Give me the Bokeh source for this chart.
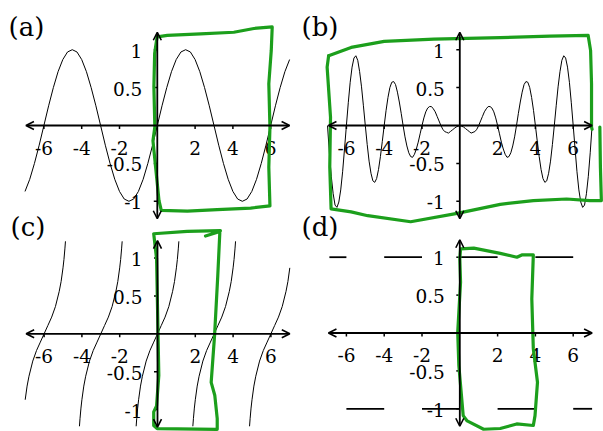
from bokeh.plotting import figure
from bokeh.models import Range1d, Arrow, OpenHead
from bokeh.core.properties import value
from bokeh.embed import file_html
from bokeh.resources import INLINE

# ---------------- data ----------------
# (a) periodic wave, period 6
wave_x = [-7.0, -6.75, -6.5, -6.25, -6.0, -5.75, -5.5, -5.25, -5.0, -4.75,
          -4.5, -4.25, -4.0, -3.75, -3.5, -3.25, -3.0, -2.75, -2.5, -2.25,
          -2.0, -1.75, -1.5, -1.25, -1.0, -0.75, -0.5, -0.25, 0.0, 0.25,
          0.5, 0.75, 1.0, 1.25, 1.5, 1.75, 2.0, 2.25, 2.5, 2.75,
          3.0, 3.25, 3.5, 3.75, 4.0, 4.25, 4.5, 4.75, 5.0, 5.25,
          5.5, 5.75, 6.0, 6.25, 6.5, 6.75, 7.0]
wave_y = [-0.87, -0.71, -0.5, -0.26, 0.0, 0.26, 0.5, 0.71, 0.87, 0.97,
          1.0, 0.97, 0.87, 0.71, 0.5, 0.26, 0.0, -0.26, -0.5, -0.71,
          -0.87, -0.97, -1.0, -0.97, -0.87, -0.71, -0.5, -0.26, 0.0, 0.26,
          0.5, 0.71, 0.87, 0.97, 1.0, 0.97, 0.87, 0.71, 0.5, 0.26,
          0.0, -0.26, -0.5, -0.71, -0.87, -0.97, -1.0, -0.97, -0.87, -0.71,
          -0.5, -0.26, 0.0, 0.26, 0.5, 0.71, 0.87]

# (b) oscillation with growing amplitude (not periodic)
packet_x = [-7.0, -6.9, -6.8, -6.7, -6.6, -6.5, -6.4, -6.3, -6.2, -6.1,
            -6.0, -5.9, -5.8, -5.7, -5.6, -5.5, -5.4, -5.3, -5.2, -5.1,
            -5.0, -4.9, -4.8, -4.7, -4.6, -4.5, -4.4, -4.3, -4.2, -4.1,
            -4.0, -3.9, -3.8, -3.7, -3.6, -3.5, -3.4, -3.3, -3.2, -3.1,
            -3.0, -2.9, -2.8, -2.7, -2.6, -2.5, -2.4, -2.3, -2.2, -2.1,
            -2.0, -1.9, -1.8, -1.7, -1.6, -1.5, -1.4, -1.3, -1.2, -1.1,
            -1.0, -0.9, -0.8, -0.7, -0.6, -0.5, -0.4, -0.3, -0.2, -0.1,
            0.0,
            0.1, 0.2, 0.3, 0.4, 0.5, 0.6, 0.7, 0.8, 0.9, 1.0,
            1.1, 1.2, 1.3, 1.4, 1.5, 1.6, 1.7, 1.8, 1.9, 2.0,
            2.1, 2.2, 2.3, 2.4, 2.5, 2.6, 2.7, 2.8, 2.9, 3.0,
            3.1, 3.2, 3.3, 3.4, 3.5, 3.6, 3.7, 3.8, 3.9, 4.0,
            4.1, 4.2, 4.3, 4.4, 4.5, 4.6, 4.7, 4.8, 4.9, 5.0,
            5.1, 5.2, 5.3, 5.4, 5.5, 5.6, 5.7, 5.8, 5.9, 6.0,
            6.1, 6.2, 6.3, 6.4, 6.5, 6.6, 6.7, 6.8, 6.9, 7.0]
packet_y = [0.0, -0.36, -0.67, -0.90, -1.05, -1.08, -1.01, -0.85, -0.61, -0.31,
            0.0, 0.30, 0.57, 0.77, 0.89, 0.92, 0.86, 0.71, 0.51, 0.26,
            0.0, -0.25, -0.47, -0.63, -0.73, -0.75, -0.70, -0.58, -0.41, -0.21,
            0.0, 0.20, 0.37, 0.50, 0.57, 0.58, 0.54, 0.44, 0.31, 0.16,
            0.0, -0.15, -0.27, -0.36, -0.41, -0.42, -0.38, -0.31, -0.22, -0.11,
            0.0, 0.10, 0.18, 0.23, 0.25, 0.25, 0.22, 0.18, 0.12, 0.06,
            0.0, -0.05, -0.08, -0.09, -0.10, -0.08, -0.06, -0.04, -0.02, -0.01,
            0.0,
            -0.01, -0.02, -0.04, -0.06, -0.08, -0.10, -0.09, -0.08, -0.05, 0.0,
            0.06, 0.12, 0.18, 0.22, 0.25, 0.25, 0.23, 0.18, 0.10, 0.0,
            -0.11, -0.22, -0.31, -0.38, -0.42, -0.41, -0.36, -0.27, -0.15, 0.0,
            0.16, 0.31, 0.44, 0.54, 0.58, 0.57, 0.50, 0.37, 0.20, 0.0,
            -0.21, -0.41, -0.58, -0.70, -0.75, -0.73, -0.63, -0.47, -0.25, 0.0,
            0.26, 0.51, 0.71, 0.86, 0.92, 0.89, 0.77, 0.57, 0.30, 0.0,
            -0.31, -0.61, -0.85, -1.01, -1.08, -1.05, -0.90, -0.67, -0.36, 0.0]

# (c) tangent-like branches, period 3: one branch shape around each zero
branch_zeros = [-6, -3, 0, 3, 6]
branch_dx = [-1.13, -1.1, -1.05, -1.0, -0.9, -0.8, -0.6, -0.4, -0.2, 0.0,
             0.2, 0.4, 0.6, 0.8, 0.9, 1.0, 1.05, 1.1, 1.13]
branch_y = [-1.22, -1.12, -0.98, -0.87, -0.69, -0.56, -0.36, -0.22, -0.11, 0.0,
            0.11, 0.22, 0.36, 0.56, 0.69, 0.87, 0.98, 1.12, 1.22]

# (d) square wave, period 4
step_x0 = [-6.9, -6.0, -4.0, -2.0, 0.0, 2.0, 4.0, 6.0]
step_x1 = [-6.0, -4.0, -2.0, 0.0, 2.0, 4.0, 6.0, 7.0]
step_y = [1, -1, 1, -1, 1, -1, 1, -1]

# ticks and labels shared by the four panels
x_ticks = [-6, -4, -2, 2, 4, 6]
x_tick_labels = ["-6", "-4", "-2", "2", "4", "6"]
y_ticks = [-1, -0.5, 0.5, 1]
y_tick_labels = ["-1", "-0.5", "0.5", "1"]
panel_names = ["(a)", "(b)", "(c)", "(d)"]

# hand-drawn green outlines (panel units)
loop_a_x = [0.0, -0.14, -0.18, -0.13, -0.23, -0.09, 0.09, 0.21, 1.59, 3.17, 4.94,
            5.96, 5.90, 5.96, 5.90, 6.03, 6.08, 5.11, 4.05, 2.29, 0.53, 0.0]
loop_a_y = [1.19, 0.95, 0.51, -0.02, -0.20, -0.55, -0.99, -1.12, -1.13, -1.11, -1.09,
            -1.06, -0.55, -0.02, 0.55, 0.99, 1.30, 1.28, 1.23, 1.21, 1.19, 1.17]
loop_b1_x = [-6.94, -5.75, -4.0, -1.37, 2.14, 4.77, 6.79, 6.92, 6.97, 6.97, 7.0]
loop_b1_y = [0.92, 1.03, 1.11, 1.14, 1.16, 1.18, 1.19, 0.99, 0.55, -0.02, -0.05]
loop_b2_x = [7.41, 7.44, 7.49, 6.88, 5.65, 3.89, 2.14, -0.14, -2.6, -4.87, -5.75,
             -6.81, -6.88, -6.84, -7.02, -6.94]
loop_b2_y = [-0.02, -0.55, -0.99, -0.99, -0.97, -0.99, -1.04, -1.16, -1.27, -1.19, -1.14,
             -1.10, -0.55, 0.11, 0.77, 0.92]
loop_c_x = [2.54, 3.30, 3.19, 3.02, 2.84, 3.03, 3.16, 3.16, -0.02, -0.20, -0.20,
            -0.05, 0.07, 0.02, -0.05, -0.20, 1.57, 3.33]
loop_c_y = [1.29, 1.35, 0.77, -0.02, -0.64, -0.81, -1.12, -1.26, -1.25, -1.21, -1.03,
            -0.95, -0.55, 0.11, 0.99, 1.32, 1.35, 1.36]
loop_d_x = [0.04, 0.74, 2.14, 3.02, 3.28, 3.89, 3.81, 3.89, 4.11, 3.98, 3.89,
            3.01, 2.14, 1.26, 0.39, 0.18, -0.05, -0.11, 0.04, 0.0, 0.04]
loop_d_y = [1.11, 1.12, 1.05, 1.00, 1.03, 1.03, 0.45, -0.21, -0.65, -1.09, -1.22,
            -1.20, -1.26, -1.27, -1.16, -1.09, -0.43, 0.01, 0.67, 0.98, 1.11]

# ---------------- layout ----------------
W, H = 603, 431
SX, SY = 18.9, 75.8                      # pixels per unit along x and y
ORIGINS = {"a": (156.8, 125.0), "b": (459.3, 125.0),
           "c": (157.0, 333.3), "d": (459.3, 332.5)}
FONT = value("DejaVu Serif")
INK = "black"
PEN = "#1c9f1c"

p = figure(width=W, height=H, x_range=Range1d(0, W), y_range=Range1d(H, 0),
           output_backend="svg", toolbar_location=None,
           x_axis_type=None, y_axis_type=None, min_border=0)
p.outline_line_color = None
p.background_fill_color = "white"
p.border_fill_color = "white"

for key, (ox, oy) in ORIGINS.items():
    p.extra_x_ranges[key] = Range1d(-ox / SX, (W - ox) / SX)
    p.extra_y_ranges[key] = Range1d((oy - H) / SY, oy / SY)


def draw_axes(key):
    kw = dict(x_range_name=key, y_range_name=key)
    for (xs, ys, xe, ye) in [(-6.95, 0, 7.0, 0), (0, -1.23, 0, 1.23)]:
        p.add_layout(Arrow(start=OpenHead(size=8, line_width=1.6, line_color=INK),
                           end=OpenHead(size=8, line_width=1.6, line_color=INK),
                           x_start=xs, y_start=ys, x_end=xe, y_end=ye,
                           line_width=1.8, line_color=INK, **kw))
    p.segment(x0=x_ticks, y0=[0] * len(x_ticks), x1=x_ticks,
              y1=[-3.5 / SY] * len(x_ticks), line_width=1.5, line_color=INK, **kw)
    p.segment(x0=[0] * len(y_ticks), y0=y_ticks, x1=[-3.5 / SX] * len(y_ticks),
              y1=y_ticks, line_width=1.5, line_color=INK, **kw)
    p.text(x=x_ticks, y=[0] * len(x_ticks), text=x_tick_labels, y_offset=22,
           text_align="center", text_baseline="alphabetic", text_font=FONT,
           text_font_size="18.5px", text_color=INK, **kw)
    p.text(x=[0] * len(y_ticks), y=y_ticks, text=y_tick_labels, x_offset=-15,
           y_offset=1, text_align="right", text_baseline="alphabetic",
           text_font=FONT, text_font_size="18.5px", text_color=INK, **kw)


for key in ORIGINS:
    draw_axes(key)

# (a)
p.line(wave_x, wave_y, line_width=1.0, line_color=INK,
       x_range_name="a", y_range_name="a")
# (b)
p.line(packet_x, packet_y, line_width=1.0, line_color=INK,
       x_range_name="b", y_range_name="b")
# (c)
for z in branch_zeros:
    pts = [(z + dx, y) for dx, y in zip(branch_dx, branch_y) if -7.0 <= z + dx <= 7.0]
    p.line([q[0] for q in pts], [q[1] for q in pts], line_width=1.0,
           line_color=INK, x_range_name="c", y_range_name="c")
# (d)
p.segment(x0=step_x0, y0=step_y, x1=step_x1, y1=step_y, line_width=1.8,
          line_color=INK, line_cap="butt", x_range_name="d", y_range_name="d")

# panel names
p.text(x=[8, 301, 10, 301], y=[26, 26, 226, 226], text=panel_names,
       text_align="left", text_baseline="alphabetic", text_font=FONT,
       text_font_size="26px", text_color=INK)

# green outlines
for key, xs, ys in [("a", loop_a_x, loop_a_y), ("b", loop_b1_x, loop_b1_y),
                    ("b", loop_b2_x, loop_b2_y), ("c", loop_c_x, loop_c_y),
                    ("d", loop_d_x, loop_d_y)]:
    p.line(xs, ys, line_width=3.2, line_color=PEN, line_join="round",
           line_cap="round", x_range_name=key, y_range_name=key)

open("out.html", "w").write(file_html(p, INLINE))
